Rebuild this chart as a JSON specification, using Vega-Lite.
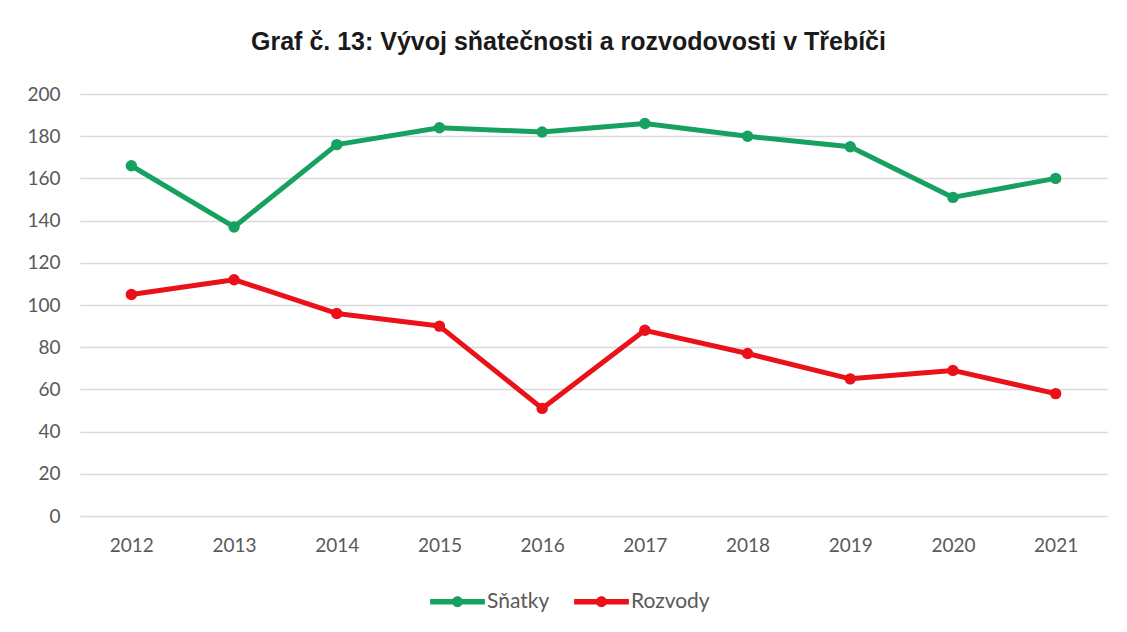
{
  "$schema": "https://vega.github.io/schema/vega-lite/v6.json",
  "width": 1027,
  "height": 422,
  "autosize": {"type": "none"},
  "padding": {"left": 80, "top": 94, "right": 20, "bottom": 116},
  "background": "white",
  "title": {
    "text": "Graf č. 13: Vývoj sňatečnosti a rozvodovosti v Třebíči",
    "font": "Liberation Sans",
    "fontSize": 25,
    "fontWeight": "bold",
    "color": "#1a1a1a",
    "anchor": "middle",
    "dx": -25,
    "baseline": "alphabetic",
    "offset": 10
  },
  "data": {
    "values": [
      {"rok": "2012", "serie": "Sňatky", "pocet": 166},
      {"rok": "2013", "serie": "Sňatky", "pocet": 137},
      {"rok": "2014", "serie": "Sňatky", "pocet": 176},
      {"rok": "2015", "serie": "Sňatky", "pocet": 184},
      {"rok": "2016", "serie": "Sňatky", "pocet": 182},
      {"rok": "2017", "serie": "Sňatky", "pocet": 186},
      {"rok": "2018", "serie": "Sňatky", "pocet": 180},
      {"rok": "2019", "serie": "Sňatky", "pocet": 175},
      {"rok": "2020", "serie": "Sňatky", "pocet": 151},
      {"rok": "2021", "serie": "Sňatky", "pocet": 160},
      {"rok": "2012", "serie": "Rozvody", "pocet": 105},
      {"rok": "2013", "serie": "Rozvody", "pocet": 112},
      {"rok": "2014", "serie": "Rozvody", "pocet": 96},
      {"rok": "2015", "serie": "Rozvody", "pocet": 90},
      {"rok": "2016", "serie": "Rozvody", "pocet": 51},
      {"rok": "2017", "serie": "Rozvody", "pocet": 88},
      {"rok": "2018", "serie": "Rozvody", "pocet": 77},
      {"rok": "2019", "serie": "Rozvody", "pocet": 65},
      {"rok": "2020", "serie": "Rozvody", "pocet": 69},
      {"rok": "2021", "serie": "Rozvody", "pocet": 58}
    ]
  },
  "encoding": {
    "x": {
      "field": "rok",
      "type": "ordinal",
      "scale": {"type": "point", "padding": 0.5},
      "axis": {
        "title": null,
        "labelAngle": 0,
        "labelFont": "Lato",
        "labelFontSize": 19,
        "labelColor": "#595959",
        "labelPadding": 20,
        "domain": false,
        "ticks": false,
        "grid": false
      }
    },
    "y": {
      "field": "pocet",
      "type": "quantitative",
      "scale": {"domain": [0, 200], "nice": false},
      "axis": {
        "title": null,
        "values": [0, 20, 40, 60, 80, 100, 120, 140, 160, 180, 200],
        "labelFont": "Lato",
        "labelFontSize": 19,
        "labelColor": "#595959",
        "labelPadding": 20,
        "domain": false,
        "ticks": false,
        "grid": true,
        "gridColor": "#d9d9d9",
        "gridWidth": 1.3
      }
    },
    "color": {
      "field": "serie",
      "type": "nominal",
      "scale": {"domain": ["Sňatky", "Rozvody"], "range": ["#17A160", "#EA1218"]},
      "legend": {
        "title": null,
        "orient": "none",
        "legendX": 350,
        "legendY": 480,
        "direction": "horizontal",
        "labelFont": "Lato",
        "labelFontSize": 21,
        "labelColor": "#595959",
        "labelOffset": 2,
        "columnPadding": 24,
        "symbolType": "M-1,-0.1L1,-0.1L1,0.1L-1,0.1Z M-0.2,0A0.2,0.2 0 1,1 0.2,0A0.2,0.2 0 1,1 -0.2,0Z",
        "symbolSize": 3000,
        "symbolStrokeWidth": 0,
        "encode": {
          "symbols": {"update": {"fill": {"scale": "color", "field": "value"}, "strokeWidth": {"value": 0}, "opacity": {"value": 1}}}
        }
      }
    }
  },
  "layer": [
    {"mark": {"type": "line", "strokeWidth": 5, "strokeCap": "round", "strokeJoin": "round"}},
    {"mark": {"type": "circle", "size": 130, "opacity": 1}}
  ],
  "config": {"view": {"stroke": null}}
}
